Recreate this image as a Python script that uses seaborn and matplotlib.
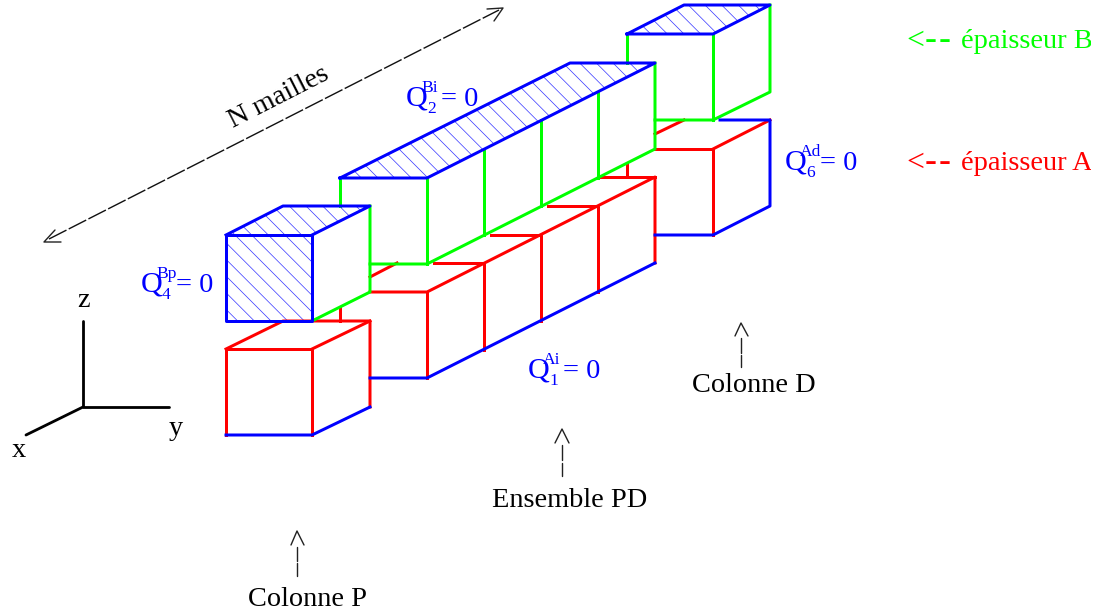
import matplotlib
matplotlib.use("Agg")
import matplotlib.pyplot as plt
import pandas as pd
import seaborn as sns
from matplotlib.patches import Rectangle

WIDTH = 1098
HEIGHT = 615
DPI = 100
PX = 72 / DPI

RED_SEGMENTS = [
    # colonne P
    [(226, 435), (226, 349), (312, 349), (312, 435)],
    [(226, 349), (283, 321), (370, 321), (370, 407)],
    [(312, 349), (370, 321)],
    [(340, 321), (340, 307)],
    # ensemble PD
    [(370, 292), (427, 292), (655, 177), (655, 263)],
    [(427, 292), (427, 378)],
    [(434, 263), (484, 263), (484, 350)],
    [(491, 235), (541, 235), (541, 321)],
    [(548, 206), (598, 206), (598, 292)],
    [(598, 177), (655, 177)],
    [(370, 277), (397, 263)],
    [(627, 163), (627, 177)],
    # colonne D
    [(655, 149), (713, 149), (713, 235)],
    [(713, 149), (770, 120)],
    [(655, 134), (684, 120)],
]
GREEN_SEGMENTS = [
    [(370, 206), (370, 292), (312, 321)],
    [(340, 178), (340, 206)],
    [(370, 264), (427, 264), (655, 149), (655, 63)],
    [(427, 178), (427, 264)],
    [(484, 149), (484, 235)],
    [(541, 120), (541, 206)],
    [(598, 92), (598, 178)],
    [(627, 34), (627, 63)],
    [(655, 120), (713, 120), (770, 92), (770, 5)],
    [(713, 34), (713, 120)],
]
BLUE_SEGMENTS = [
    [(226, 235), (312, 235), (312, 321), (226, 321), (226, 235)],
    [(226, 235), (283, 206), (370, 206), (312, 235)],
    [(340, 178), (427, 178), (655, 63), (570, 63), (340, 178)],
    [(627, 34), (713, 34), (770, 5), (684, 5), (627, 34)],
    [(226, 435), (312, 435), (370, 407)],
    [(370, 378), (427, 378), (655, 263)],
    [(655, 235), (713, 235), (770, 206), (770, 120), (720, 120)],
]
HATCHED_FACES = [
    [(226, 235), (312, 235), (312, 321), (226, 321)],
    [(226, 235), (283, 206), (370, 206), (312, 235)],
    [(340, 178), (427, 178), (655, 63), (570, 63)],
    [(627, 34), (713, 34), (770, 5), (684, 5)],
]
AXIS_SEGMENTS = [
    [(83, 321), (83, 407), (169, 407)],
    [(83, 407), (26, 435)],
]
ARROW_SEGMENTS = [
    [(487, 9), (503, 8), (494, 21)],
    [(55, 230), (44, 242), (61, 242)],
    [(735, 336), (741, 323), (748, 336)],
    [(741, 338), (741, 353)],
    [(741, 355), (741, 367)],
    [(555, 443), (562, 429), (569, 443)],
    [(562, 445), (562, 460)],
    [(562, 463), (562, 476)],
    [(291, 545), (297, 531), (304, 545)],
    [(297, 547), (297, 561)],
    [(297, 563), (297, 576)],
]
N_LINE = [(49, 239), (499, 10)]

BLACK_LABELS = ["Colonne D", "Ensemble PD", "Colonne P", "z", "y", "x"]
BLACK_LABEL_POS = [(692, 392), (492, 507), (248, 606), (77, 307), (169, 435), (12, 457)]

Q_SUP = ["Bi", "Bp", "Ad", "Ai"]
Q_SUB = ["2", "4", "6", "1"]
Q_POS = [(406, 106), (141, 292), (785, 170), (528, 378)]

THICKNESS_LABELS = ["épaisseur B", "épaisseur A"]
THICKNESS_ROWS = [48, 170]
THICKNESS_COLORS = ["#00ff00", "#ff0000"]

COLORS = {"red": "#ff0000", "green": "#00ff00", "blue": "#0000ff"}


def segments_frame(groups):
    rows = []
    for name, segments in groups.items():
        for i, seg in enumerate(segments):
            for x, y in seg:
                rows.append({"x": x, "y": y, "seg": f"{name}{i}", "colour": name})
    return pd.DataFrame(rows)


sns.set_style("white")
plt.rcParams["font.family"] = ["Liberation Serif", "DejaVu Serif"]
plt.rcParams["hatch.linewidth"] = 0.5

fig = plt.figure(figsize=(WIDTH / DPI, HEIGHT / DPI), dpi=DPI)
ax = fig.add_axes([0, 0, 1, 1])

for face in HATCHED_FACES:
    xs, ys = zip(*face)
    ax.fill(xs, ys, facecolor="none", edgecolor="#3333ff", hatch="\\\\", linewidth=0)

frame = segments_frame({"red": RED_SEGMENTS, "green": GREEN_SEGMENTS, "blue": BLUE_SEGMENTS})
sns.lineplot(data=frame, x="x", y="y", units="seg", hue="colour", hue_order=["red", "green", "blue"],
             palette=COLORS, estimator=None, sort=False, legend=False, linewidth=3 * PX,
             solid_capstyle="projecting", ax=ax)

black = segments_frame({"axis": AXIS_SEGMENTS})
sns.lineplot(data=black, x="x", y="y", units="seg", color="black", estimator=None, sort=False,
             legend=False, linewidth=2.8 * PX, ax=ax)

arrows = segments_frame({"arrow": ARROW_SEGMENTS})
sns.lineplot(data=arrows, x="x", y="y", units="seg", color="#222222", estimator=None, sort=False,
             legend=False, linewidth=1.4 * PX, ax=ax)

n_line = segments_frame({"n": [N_LINE]})
sns.lineplot(data=n_line, x="x", y="y", units="seg", color="#111111", estimator=None, sort=False,
             legend=False, linewidth=1.4 * PX, linestyle=(0, (14, 1.8)), ax=ax)

ax.set_xlim(0, WIDTH)
ax.set_ylim(HEIGHT, 0)
ax.axis("off")

BIG = 28.4 * PX
SMALL = 17.5 * PX

for label, (x, y) in zip(BLACK_LABELS, BLACK_LABEL_POS):
    ax.text(x, y, label, fontsize=BIG, color="black", ha="left", va="baseline")

ax.text(279, 97, "N mailles", fontsize=BIG, color="black", rotation=27, ha="center", va="center",
        rotation_mode="anchor")

for sup, sub, (x, y) in zip(Q_SUP, Q_SUB, Q_POS):
    ax.text(x, y, "Q", fontsize=BIG * 1.06, color="#0000ff", ha="left", va="baseline")
    ax.text(x + 15, y - 14, sup, fontsize=SMALL, color="#0000ff", ha="left", va="baseline")
    ax.text(x + 21, y + 7, sub, fontsize=SMALL, color="#0000ff", ha="left", va="baseline")
    ax.text(x + 35, y, "= 0", fontsize=BIG, color="#0000ff", ha="left", va="baseline")

clip = Rectangle((0, 0), 1091, HEIGHT, transform=ax.transData)
for label, y, colour in zip(THICKNESS_LABELS, THICKNESS_ROWS, THICKNESS_COLORS):
    ax.text(906, y + 1, "<", fontsize=BIG * 1.12, color=colour, ha="left", va="baseline")
    ax.text(925, y + 1, "-", fontsize=BIG * 1.25, color=colour, ha="left", va="baseline")
    ax.text(939, y + 1, "-", fontsize=BIG * 1.25, color=colour, ha="left", va="baseline")
    t = ax.text(961, y, label, fontsize=BIG, color=colour, ha="left", va="baseline", clip_on=True)
    t.set_clip_path(clip)

fig.savefig("out.png", dpi=DPI)
